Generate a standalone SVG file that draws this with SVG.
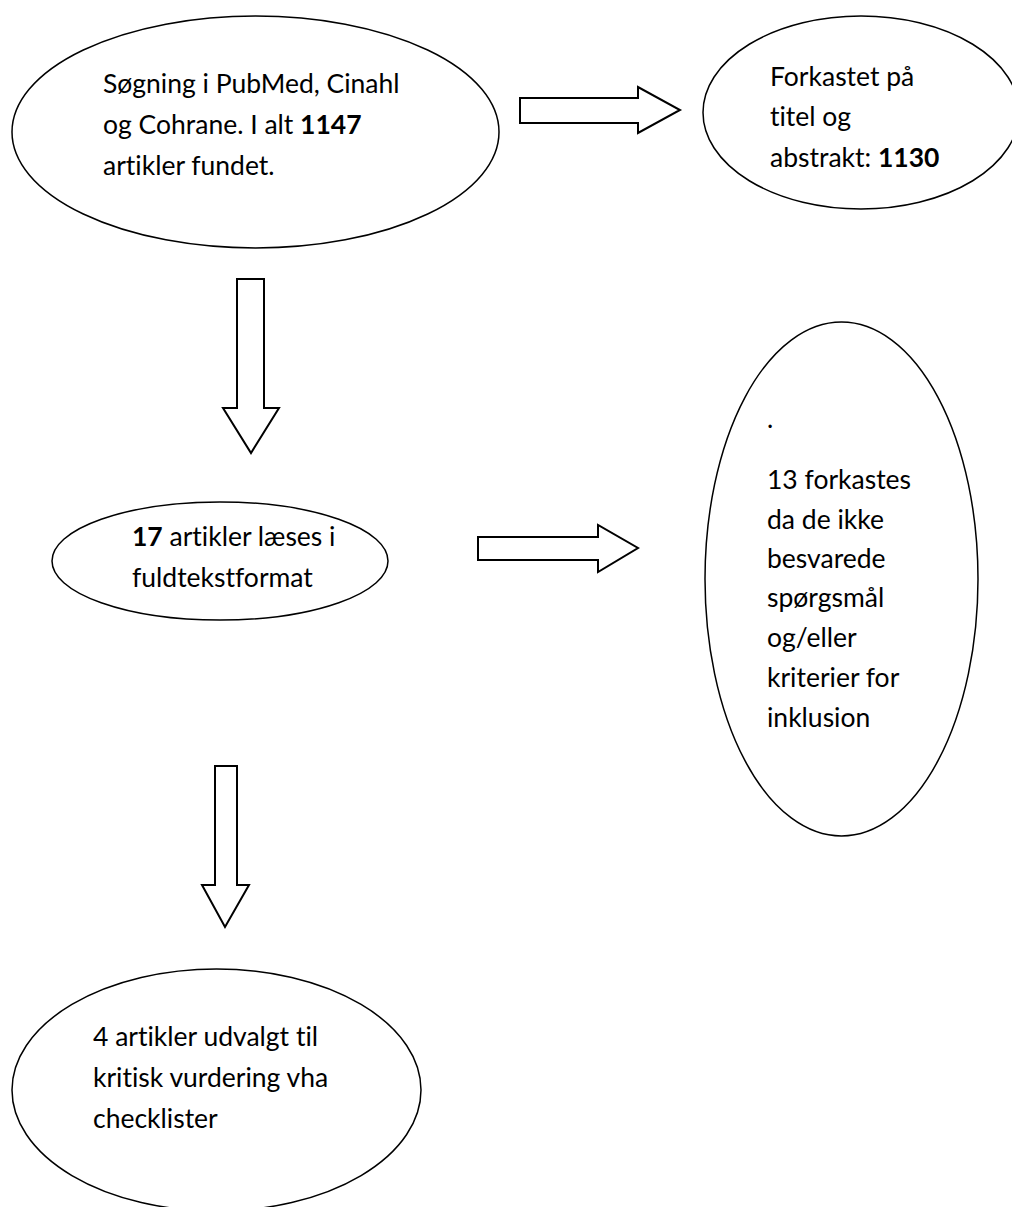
<svg xmlns="http://www.w3.org/2000/svg" width="1012" height="1207" viewBox="0 0 1012 1207">
<style>
.node{fill:#fff;stroke:#000;stroke-width:1.5}
.arr{fill:#fff;stroke:#000;stroke-width:2;stroke-linejoin:miter}
text{font-family:Lato,"Liberation Sans",sans-serif;font-size:26.5px;fill:#000;font-variant-ligatures:none;font-feature-settings:"liga" 0,"clig" 0}
.b{font-weight:bold}
</style>
<rect width="1012" height="1207" fill="#fff"/>
<g id="connectors">
<path class="arr" d="M520,98 H638 V87 L680,110 L638,133 V123 H520 Z"/>
<path class="arr" d="M237,279 H264 V408 H279 L251,453 L223,408 H237 Z"/>
<path class="arr" d="M478,537 H598 V525 L638,548 L598,572 V560 H478 Z"/>
<path class="arr" d="M215,766 H237 V885 H249 L225,927 L202,885 H215 Z"/>
</g>
<g id="n1">
<ellipse class="node" cx="255.5" cy="132" rx="243.5" ry="116"/>
<text x="103" y="93">Søgning i PubMed, Cinahl</text>
<text x="103" y="134">og Cohrane. I alt <tspan class="b">1147</tspan></text>
<text x="103" y="175">artikler fundet.</text>
</g>
<g id="n2">
<ellipse class="node" cx="861" cy="112.5" rx="158" ry="96.5"/>
<text x="770" y="86">Forkastet på</text>
<text x="770" y="126">titel og</text>
<text x="770" y="167">abstrakt: <tspan class="b">1130</tspan></text>
</g>
<g id="n3">
<ellipse class="node" cx="220" cy="561" rx="168" ry="59"/>
<text x="132" y="546"><tspan class="b">17</tspan> artikler læses i</text>
<text x="132" y="587">fuldtekstformat</text>
</g>
<g id="n4">
<ellipse class="node" cx="841.5" cy="579" rx="136.5" ry="257"/>
<text x="767" y="428">.</text>
<text x="767" y="489">13 forkastes</text>
<text x="767" y="529">da de ikke</text>
<text x="767" y="568">besvarede</text>
<text x="767" y="607">spørgsmål</text>
<text x="767" y="647">og/eller</text>
<text x="767" y="687">kriterier for</text>
<text x="767" y="727">inklusion</text>
</g>
<g id="n5">
<ellipse class="node" cx="216.5" cy="1090" rx="204.5" ry="121"/>
<text x="93" y="1046">4 artikler udvalgt til</text>
<text x="93" y="1087">kritisk vurdering vha</text>
<text x="93" y="1128">checklister</text>
</g>
</svg>
